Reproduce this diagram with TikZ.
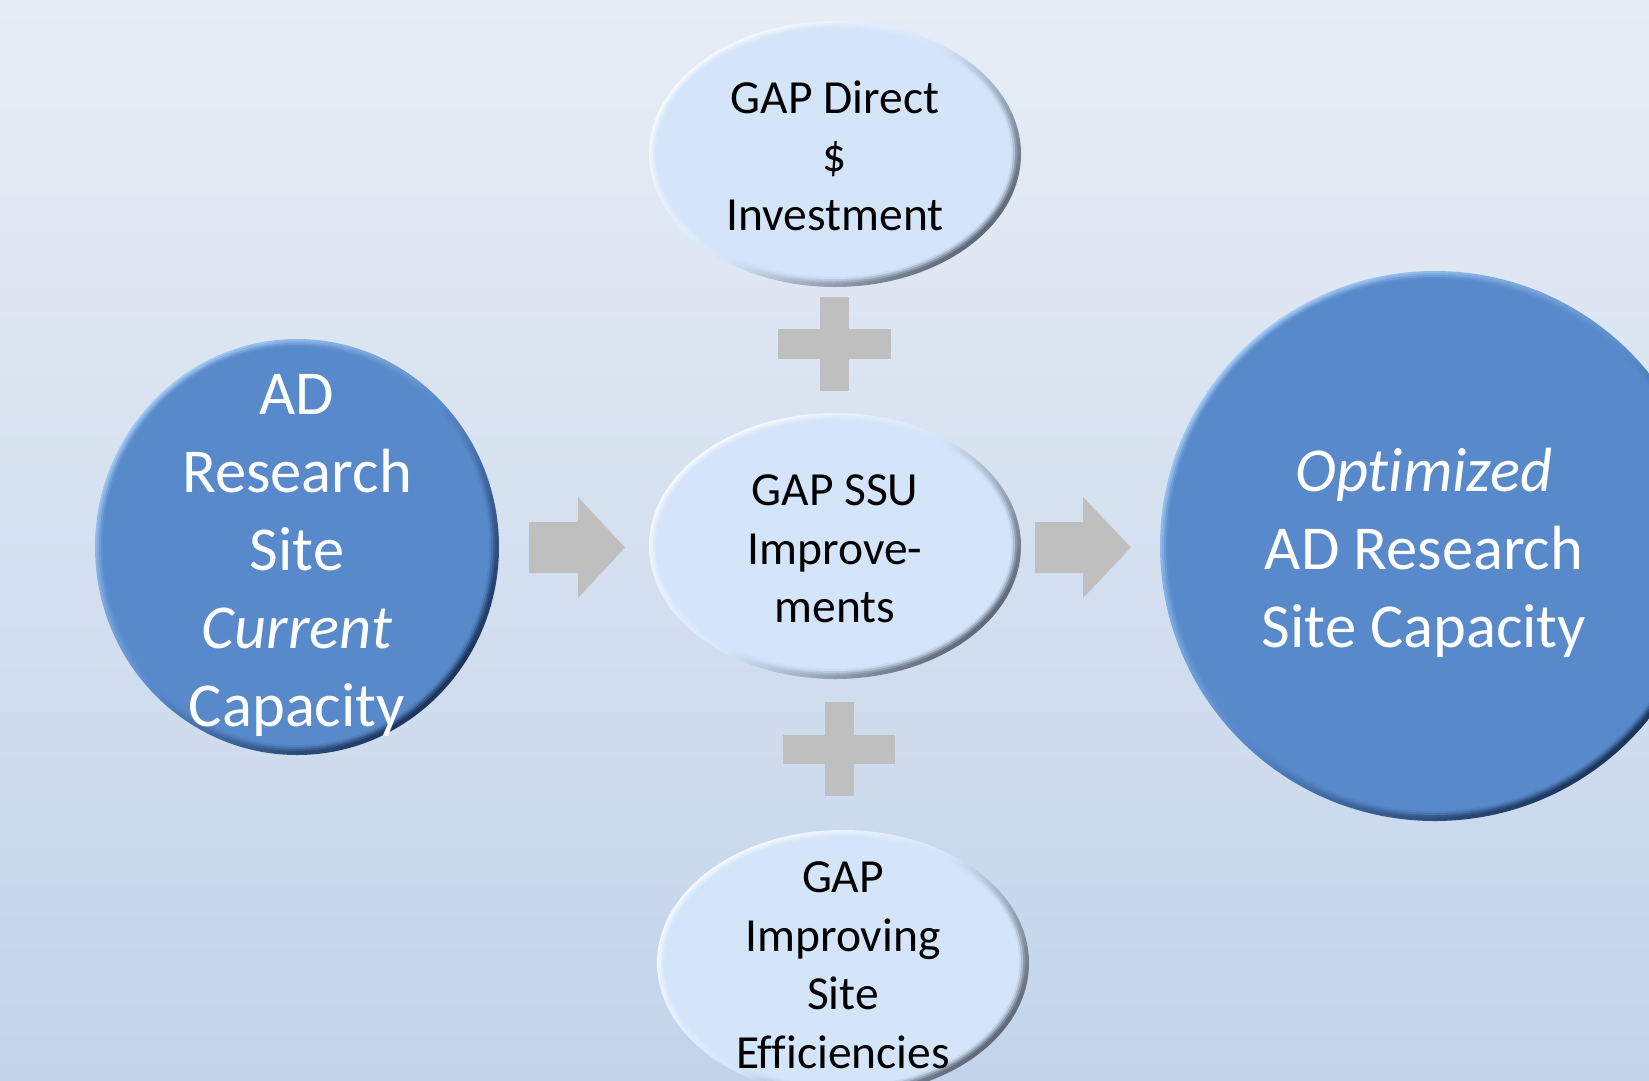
\documentclass[tikz,border=0pt]{standalone}
\usepackage{fontspec}
\setmainfont{Carlito}[Ligatures=NoCommon]
\usetikzlibrary{shapes.geometric}
\definecolor{bgtop}{HTML}{E7EDF5}
\definecolor{bgbot}{HTML}{C3D4EA}
\definecolor{blueface}{HTML}{5889CA}
\definecolor{bluehi}{HTML}{A4CBF5}
\definecolor{bluelo}{HTML}{1C355C}
\definecolor{lightface}{HTML}{D4E5FA}
\definecolor{lighthi}{HTML}{F6FAFF}
\definecolor{lightlo}{HTML}{5F6A7A}
\definecolor{plusgray}{HTML}{BFBFBF}
\newcommand{\mybevel}[3]{%
  \foreach \d/\o in {3/0.25,5/0.45,7/0.7,9/1}{%
    \fill[#1,opacity=\o] ([shift={(-1pt,1pt)}]path picture bounding box.center)
      ellipse [x radius={(#2-\d)*1pt}, y radius={(#3-\d)*1pt}];}}
\tikzset{
  lightell/.style={ellipse, minimum width=372pt, minimum height=266pt, inner sep=0pt, outer sep=0pt,
    top color=lighthi, bottom color=lightlo, middle color=lightface, shading angle=45,
    path picture={\mybevel{lightface}{186}{133}}},
  leftcirc/.style={ellipse, minimum width=404pt, minimum height=416pt, inner sep=0pt, outer sep=0pt,
    top color=bluehi, bottom color=bluelo, middle color=blueface, shading angle=45,
    path picture={\mybevel{blueface}{202}{208}}},
  rightcirc/.style={circle, minimum size=550pt, inner sep=0pt, outer sep=0pt,
    top color=bluehi, bottom color=bluelo, middle color=blueface, shading angle=45,
    path picture={\mybevel{blueface}{275}{275}}},
  bigtext/.style={inner sep=0pt, align=center, text=white, font=\fontsize{62.5}{78}\selectfont},
  smalltext/.style={inner sep=0pt, align=center, text=black, font=\fontsize{47.5}{58.5}\selectfont},
  blockgray/.style={fill=plusgray, draw=none}
}
\begin{document}
\begin{tikzpicture}[x=1pt, y=-1pt]
\useasboundingbox (0,0) rectangle (1649,1080);
\clip (0,0) rectangle (1649,1080);
\shade[top color=bgtop, bottom color=bgbot] (0,0) rectangle (1649,1080);

% shapes
\node[leftcirc] (left) at (297,547) {};
\node[lightell] (top) at (835,154) {};
\node[lightell] (mid) at (835,546) {};
\node[lightell] (bot) at (843,963) {};
\node[rightcirc] (right) at (1435,546) {};

% texts
\node[bigtext] (left-t) at ([yshift=-8pt]left) {AD\\Research\\Site\\\textit{Current}\\Capacity};
\node[bigtext] (right-t) at ([xshift=-11pt,yshift=-7pt]right) {\textit{Optimized}\\AD Research\\Site Capacity};
\node[smalltext] (top-t) at ([yshift=-1.5pt]top) {GAP Direct\\\$\\Investment};
\node[smalltext] (mid-t) at ([yshift=-3pt]mid) {GAP SSU\\Improve-\\ments};
\node[smalltext] (bot-t) at ([yshift=-2pt]bot) {GAP\\Improving\\Site\\Efficiencies};

% plus signs
\fill[blockgray] (778,329) rectangle (891,359);
\fill[blockgray] (820,297) rectangle (849,391);
\fill[blockgray] (783,735) rectangle (895,764);
\fill[blockgray] (825,702) rectangle (854,796);

% block arrows
\fill[blockgray] (529,522) -- (578,522) -- (578,497) -- (625,547.5) -- (578,598) -- (578,573) -- (529,573) -- cycle;
\fill[blockgray] (1035,522) -- (1083,522) -- (1083,497) -- (1131,547.5) -- (1083,598) -- (1083,573) -- (1035,573) -- cycle;
\end{tikzpicture}
\end{document}
